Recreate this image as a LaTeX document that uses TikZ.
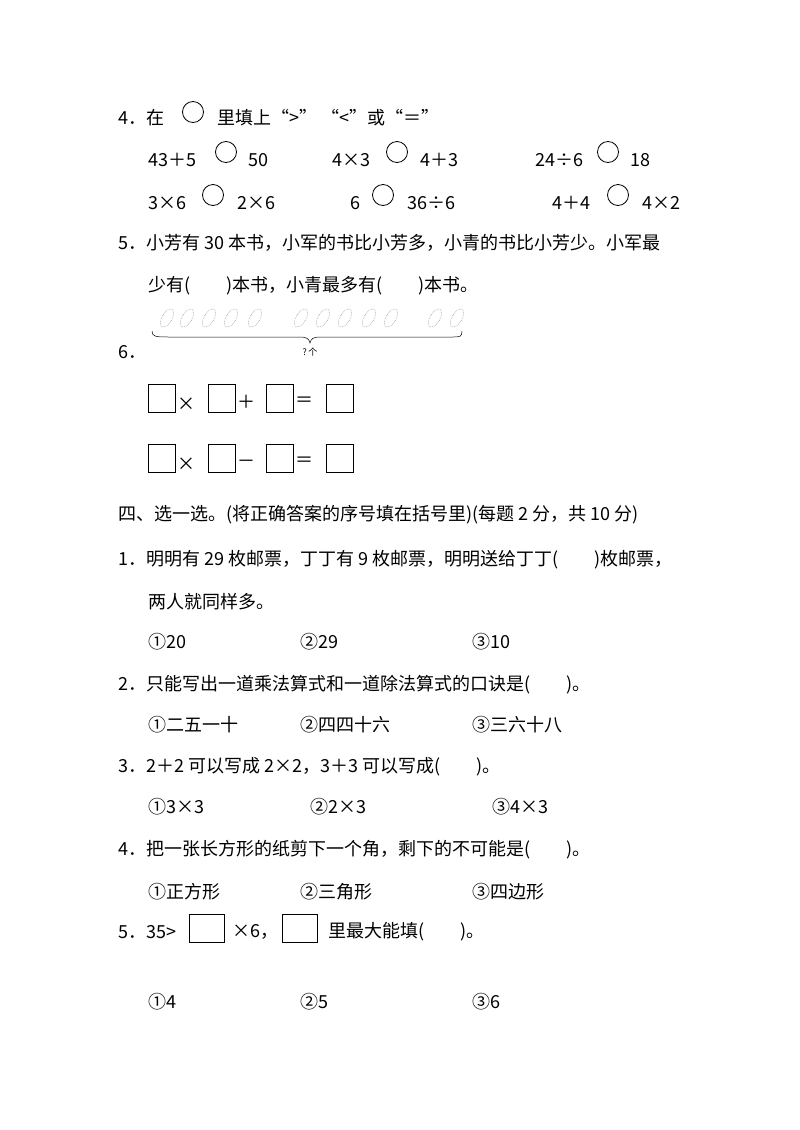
\documentclass[tikz,border=0pt]{standalone}
\usepackage{fontspec}
\usetikzlibrary{shapes.geometric}
\setmainfont{Noto Sans CJK SC}
\begin{document}
\begin{tikzpicture}[x=1pt,y=-1pt,
 t/.style={anchor=west,inner sep=0pt,font=\fontsize{18}{20}\selectfont},
 circ/.style={draw,circle,minimum size=21pt,inner sep=0pt,line width=0.8pt},
 sq/.style={draw,minimum width=27pt,minimum height=28pt,inner sep=0pt,line width=0.8pt},
 carrot/.style={draw=gray!70,densely dotted,ellipse,line width=0.6pt}]
\useasboundingbox[fill=white] (0,0) rectangle (800,1130);
\node[t] (q4) at (118,118) {4．在};
\node[circ] (c0) at (193,112) {};
\node[t] (q4b) at (217,118) {里填上“>”\ “<”或“＝”};
\node[t] (a1) at (148,160) {43＋5}; \node[circ] (c1) at (226,152) {}; \node[t] (b1) at (248,160) {50};
\node[t] (a2) at (332,160) {4×3}; \node[circ] (c2) at (397,152) {}; \node[t] (b2) at (420,160) {4＋3};
\node[t] (a3) at (535,160) {24÷6}; \node[circ] (c3) at (608,152) {}; \node[t] (b3) at (630,160) {18};
\node[t] (a4) at (148,203) {3×6}; \node[circ] (c4) at (213,195) {}; \node[t] (b4) at (237,203) {2×6};
\node[t] (a5) at (350,203) {6}; \node[circ] (c5) at (383,195) {}; \node[t] (b5) at (407,203) {36÷6};
\node[t] (a6) at (552,203) {4＋4}; \node[circ] (c6) at (618,195) {}; \node[t] (b6) at (642,203) {4×2};
\node[t] (q5) at (118,243) {5．小芳有 30 本书，小军的书比小芳多，小青的书比小芳少。小军最};
\node[t] (q5b) at (148,286) {少有(\quad\quad)本书，小青最多有(\quad\quad)本书。};
\node[t] (q6) at (118,352) {6．};
\foreach \x [count=\i] in {167,187,209,231,255,301,323,345,369,391,435,457}
  \node[carrot,minimum width=10pt,minimum height=20pt,rotate=-30] (k\i) at (\x,318) {};
\draw[line width=0.5pt] (152,331) .. controls (152,337) and (156,337) .. (170,337) -- (300,337) .. controls (307,337) and (309,339) .. (310,343) .. controls (311,339) and (313,337) .. (320,337) -- (452,337) .. controls (460,337) and (462,337) .. (462,331);
\node[font=\fontsize{9}{10}\selectfont,inner sep=0pt] (qg) at (310,352) {?\,个};
\node[sq] (s1) at (162,398) {}; \node[t] (m1) at (177,404) {×};
\node[sq] (s2) at (222,398) {}; \node[t] (p1) at (237,402) {＋};
\node[sq] (s3) at (280,398) {}; \node[t] (e1) at (295,402) {＝};
\node[sq] (s4) at (340,398) {};
\node[sq] (s5) at (162,458) {}; \node[t] (m2) at (177,464) {×};
\node[sq] (s6) at (222,458) {}; \node[t] (p2) at (237,464) {－};
\node[sq] (s7) at (280,458) {}; \node[t] (e2) at (295,462) {＝};
\node[sq] (s8) at (340,458) {};
\node[t] (h4) at (118,515) {四、选一选。(将正确答案的序号填在括号里)(每题 2 分，共 10 分)};
\node[t] (p41) at (118,560) {1．明明有 29 枚邮票，丁丁有 9 枚邮票，明明送给丁丁(\quad\quad)枚邮票，};
\node[t] (p41b) at (148,602) {两人就同样多。};
\node[t] (o11) at (148,642) {①20}; \node[t] (o12) at (300,642) {②29}; \node[t] (o13) at (472,642) {③10};
\node[t] (p42) at (118,685) {2．只能写出一道乘法算式和一道除法算式的口诀是(\quad\quad)。};
\node[t] (o21) at (148,725) {①二五一十}; \node[t] (o22) at (300,725) {②四四十六}; \node[t] (o23) at (472,725) {③三六十八};
\node[t] (p43) at (118,767) {3．2＋2 可以写成 2×2，3＋3 可以写成(\quad\quad)。};
\node[t] (o31) at (148,807) {①3×3}; \node[t] (o32) at (310,807) {②2×3}; \node[t] (o33) at (492,807) {③4×3};
\node[t] (p44) at (118,850) {4．把一张长方形的纸剪下一个角，剩下的不可能是(\quad\quad)。};
\node[t] (o41) at (148,892) {①正方形}; \node[t] (o42) at (300,892) {②三角形}; \node[t] (o43) at (472,892) {③四边形};
\node[t] (p45) at (118,932) {5．35>};
\node[sq,minimum width=35pt] (bx1) at (207,928) {};
\node[t] (p45b) at (232,932) {×6，};
\node[sq,minimum width=35pt] (bx2) at (300,928) {};
\node[t] (p45c) at (328,932) {里最大能填(\quad\quad)。};
\node[t] (o51) at (148,1002) {①4}; \node[t] (o52) at (300,1002) {②5}; \node[t] (o53) at (472,1002) {③6};
\end{tikzpicture}
\end{document}
